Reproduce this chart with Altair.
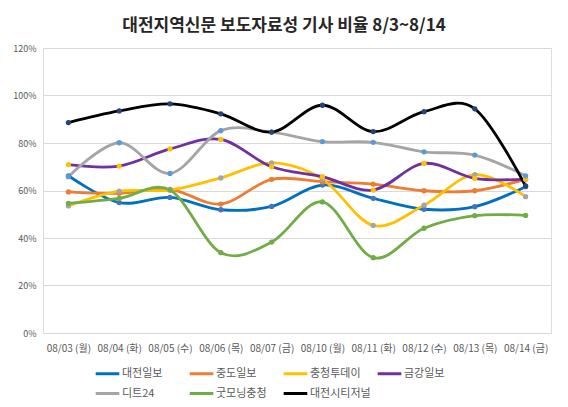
import altair as alt
import pandas as pd

dates = ["08/03 (월)", "08/04 (화)", "08/05 (수)", "08/06 (목)", "08/07 (금)",
         "08/10 (월)", "08/11 (화)", "08/12 (수)", "08/13 (목)", "08/14 (금)"]

series_names = ["대전일보", "중도일보", "충청투데이", "금강일보", "디트24", "굿모닝충청", "대전시티저널"]

daejeon_ilbo = [66.2, 54.9, 57.1, 51.9, 53.3, 62.3, 56.7, 52.1, 53.2, 61.6]
jungdo_ilbo = [59.4, 58.8, 60.5, 54.3, 64.7, 63.7, 62.7, 59.9, 59.9, 64.7]
chungcheong_today = [53.5, 59.7, 60.2, 65.3, 71.6, 64.8, 45.3, 53.8, 66.7, 57.4]
geumgang_ilbo = [70.9, 70.3, 77.5, 81.5, 70.0, 65.8, 60.2, 71.4, 65.1, 64.8]
dt24 = [65.8, 80.1, 67.2, 85.2, 84.6, 80.6, 80.3, 76.3, 74.9, 66.2]
goodmorning = [54.6, 56.7, 60.2, 33.8, 38.3, 55.2, 31.7, 44.1, 49.4, 49.5]
citizen = [88.6, 93.5, 96.5, 92.3, 84.6, 95.9, 84.8, 93.2, 94.4, 61.9]

line_colors = ["#0070C0", "#ED7D31", "#FFC000", "#7030A0", "#A5A5A5", "#70AD47", "#000000"]
marker_colors = ["#4472C4", "#ED7D31", "#A5A5A5", "#FFC000", "#5B9BD5", "#70AD47", "#264478"]

all_values = [daejeon_ilbo, jungdo_ilbo, chungcheong_today, geumgang_ilbo, dt24, goodmorning, citizen]

rows = []
for si, (name, vals) in enumerate(zip(series_names, all_values)):
    for d, v in zip(dates, vals):
        rows.append({"date": d, "series": name, "value": v / 100.0,
                     "order": si, "mcolor": marker_colors[si]})
df = pd.DataFrame(rows)

FONT = "Noto Sans CJK KR"

x = alt.X("date:N", sort=dates, title=None,
          scale=alt.Scale(paddingInner=0, paddingOuter=0.5),
          axis=alt.Axis(labelAngle=0, labelFontSize=10, labelColor="#595959",
                        ticks=False, domain=False, labelPadding=10, labelFont=FONT))
y = alt.Y("value:Q", title=None,
          scale=alt.Scale(domain=[0, 1.2], nice=False),
          axis=alt.Axis(format=".0%", values=[0, 0.2, 0.4, 0.6, 0.8, 1.0, 1.2],
                        labelFontSize=9, labelColor="#595959", ticks=False,
                        domain=False, labelPadding=7, gridColor="#D9D9D9",
                        labelFont=FONT))

lines = alt.Chart(df).mark_line(interpolate="cardinal", strokeWidth=2.8).encode(
    x=x, y=y,
    color=alt.Color("series:N", sort=series_names,
                    scale=alt.Scale(domain=series_names, range=line_colors),
                    legend=alt.Legend(title=None, orient="none", legendX=51, legendY=312,
                                      direction="horizontal",
                                      columns=4, symbolType="stroke", symbolStrokeWidth=3,
                                      symbolSize=560, labelFontSize=11, labelColor="#595959",
                                      labelFont=FONT, columnPadding=0, rowPadding=0,
                                      gridAlign="all", labelOffset=1)),
    detail="series:N",
    order=alt.Order("order:Q"),
)

points = alt.Chart(df).mark_circle(size=28, opacity=1).encode(
    x=x, y=y,
    color=alt.Color("mcolor:N", scale=None),
)

chart = alt.layer(lines, points).properties(
    width=508, height=285,
    title=alt.TitleParams("대전지역신문 보도자료성 기사 비율 8/3~8/14", fontSize=17,
                          fontWeight="bold", font=FONT, color="#262626", dx=-13, offset=9),
    autosize=alt.AutoSizeParams(type="none"),
    padding={"left": 35, "top": 40, "right": 9, "bottom": 70},
).configure_view(stroke=None).configure(background="white")

chart.save("out.html", embed_options={"renderer": "svg", "actions": False})
